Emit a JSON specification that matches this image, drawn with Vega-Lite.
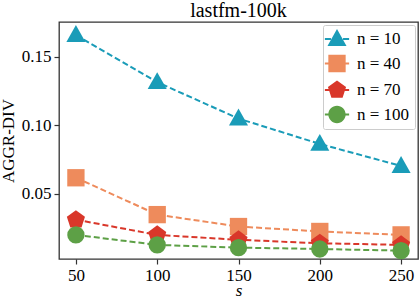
{
  "$schema": "https://vega.github.io/schema/vega-lite/v6.json",
  "width": 359,
  "height": 237,
  "autosize": {"type": "none"},
  "padding": {"left": 59, "top": 22, "right": 1, "bottom": 41},
  "background": "white",
  "config": {
    "font": "Liberation Serif",
    "view": {"stroke": "#333", "strokeWidth": 1.3},
    "style": {"guide-label": {"font": "Liberation Serif"}, "guide-title": {"font": "Liberation Serif"}},
    "axis": {"labelFont": "Liberation Serif", "titleFont": "Liberation Serif", "labelFontSize": 17, "titleFontSize": 17, "titleFontWeight": "normal", "labelColor": "#000", "titleColor": "#000", "tickColor": "#333", "domain": false, "grid": false, "tickSize": 5, "tickWidth": 1.2},
    "legend": {"labelFont": "Liberation Serif", "labelFontSize": 17, "labelColor": "#000"}
  },
  "title": {"text": "lastfm-100k", "font": "Liberation Serif", "fontSize": 20, "fontWeight": "normal", "color": "#000", "offset": 1},
  "data": {"values": [
    {"s": 50, "n": "n = 10", "g": "n = 10", "v": 0.166},
    {"s": 100, "n": "n = 10", "g": "n = 10", "v": 0.1316},
    {"s": 150, "n": "n = 10", "g": "n = 10", "v": 0.105},
    {"s": 200, "n": "n = 10", "g": "n = 10", "v": 0.0865},
    {"s": 250, "n": "n = 10", "g": "n = 10", "v": 0.0704},
    {"s": 50, "n": "n = 40", "g": "n = 40", "v": 0.0618},
    {"s": 100, "n": "n = 40", "g": "n = 40", "v": 0.0349},
    {"s": 150, "n": "n = 40", "g": "n = 40", "v": 0.0262},
    {"s": 200, "n": "n = 40", "g": "n = 40", "v": 0.0226},
    {"s": 250, "n": "n = 40", "g": "n = 40", "v": 0.0201},
    {"s": 50, "n": "n = 70", "g": "n = 70", "v": 0.0312},
    {"s": 100, "n": "n = 70", "g": "n = 70", "v": 0.0201},
    {"s": 150, "n": "n = 70", "g": "n = 70", "v": 0.0165},
    {"s": 200, "n": "n = 70", "g": "n = 70", "v": 0.014},
    {"s": 250, "n": "n = 70", "g": "n = 70", "v": 0.0128},
    {"s": 50, "n": "n = 100", "g": "n = 100", "v": 0.0201},
    {"s": 100, "n": "n = 100", "g": "n = 100", "v": 0.0128},
    {"s": 150, "n": "n = 100", "g": "n = 100", "v": 0.0108},
    {"s": 200, "n": "n = 100", "g": "n = 100", "v": 0.0098},
    {"s": 250, "n": "n = 100", "g": "n = 100", "v": 0.0086}
  ]},
  "encoding": {
    "x": {"field": "s", "type": "quantitative", "scale": {"domain": [39.6, 260.4], "nice": false, "zero": false}, "axis": {"values": [50, 100, 150, 200, 250], "title": "s", "titleFontStyle": "italic", "titleBaseline": "alphabetic", "labelFont": "Liberation Serif", "titleFont": "Liberation Serif", "labelFontSize": 17, "labelPadding": 3, "titlePadding": 12}},
    "y": {"field": "v", "type": "quantitative", "scale": {"domain": [0.0025, 0.1755], "nice": false, "zero": false}, "axis": {"values": [0.05, 0.1, 0.15], "format": ".2f", "title": "AGGR-DIV", "labelFont": "Liberation Serif", "titleFont": "Liberation Serif", "labelFontSize": 17, "labelPadding": 3, "titlePadding": 4}}
  },
  "layer": [
    {"mark": {"type": "line", "strokeDash": [6, 3], "strokeWidth": 2},
     "encoding": {
       "color": {"field": "n", "type": "nominal", "scale": {"domain": ["n = 10", "n = 40", "n = 70", "n = 100"], "range": ["#1A9CB8", "#EE8B5C", "#D9372A", "#5DA046"]}, "legend": null}
     }},
    {"mark": {"type": "point", "filled": true, "opacity": 1, "size": 300},
     "encoding": {
       "color": {"field": "n", "type": "nominal", "scale": {"domain": ["n = 10", "n = 40", "n = 70", "n = 100"], "range": ["#1A9CB8", "#EE8B5C", "#D9372A", "#5DA046"]}, "legend": null},
       "shape": {"field": "n", "type": "nominal", "scale": {"domain": ["n = 10", "n = 40", "n = 70", "n = 100"], "range": ["M0,-1.15L1.1,0.8L-1.1,0.8Z", "square", "M0,-1.1L1.046,-0.34L0.647,0.89L-0.647,0.89L-1.046,-0.34Z", "circle"]}, "legend": null}
     }},
    {"mark": {"type": "point", "filled": true, "opacity": 0, "size": 300},
     "encoding": {
       "color": {"field": "g", "type": "nominal", "scale": {"domain": ["n = 10", "n = 40", "n = 70", "n = 100"], "range": ["#1A9CB8", "#EE8B5C", "#D9372A", "#5DA046"]},
         "legend": {"orient": "top-right", "offset": 3, "title": null, "padding": 5, "rowPadding": 7.5, "symbolSize": 300, "symbolOpacity": 1, "symbolStrokeWidth": 0, "labelOffset": 11, "labelFont": "Liberation Serif", "labelFontSize": 17, "fillColor": "white", "strokeColor": "#ccc", "cornerRadius": 2}},
       "shape": {"field": "g", "type": "nominal", "scale": {"domain": ["n = 10", "n = 40", "n = 70", "n = 100"], "range": [
         "M0,-1.15L1.1,0.8L-1.1,0.8Z M-1.4,-0.12H-0.7V0.12H-1.4Z M0.7,-0.12H1.4V0.12H0.7Z",
         "M-1,-1H1V1H-1Z M-1.4,-0.12H-0.7V0.12H-1.4Z M0.7,-0.12H1.4V0.12H0.7Z",
         "M0,-1.1L1.046,-0.34L0.647,0.89L-0.647,0.89L-1.046,-0.34Z M-1.4,-0.12H-0.7V0.12H-1.4Z M0.7,-0.12H1.4V0.12H0.7Z",
         "M1,0A1,1 0 1,1 -1,0A1,1 0 1,1 1,0Z M-1.4,-0.12H-0.7V0.12H-1.4Z M0.7,-0.12H1.4V0.12H0.7Z"]},
         "legend": {"orient": "top-right", "offset": 3, "title": null, "padding": 5, "rowPadding": 7.5, "symbolSize": 300, "symbolOpacity": 1, "symbolStrokeWidth": 0, "labelOffset": 11, "labelFont": "Liberation Serif", "labelFontSize": 17, "fillColor": "white", "strokeColor": "#ccc", "cornerRadius": 2}}
     }}
  ],
  "resolve": {"scale": {"color": "independent", "shape": "independent"}}
}
